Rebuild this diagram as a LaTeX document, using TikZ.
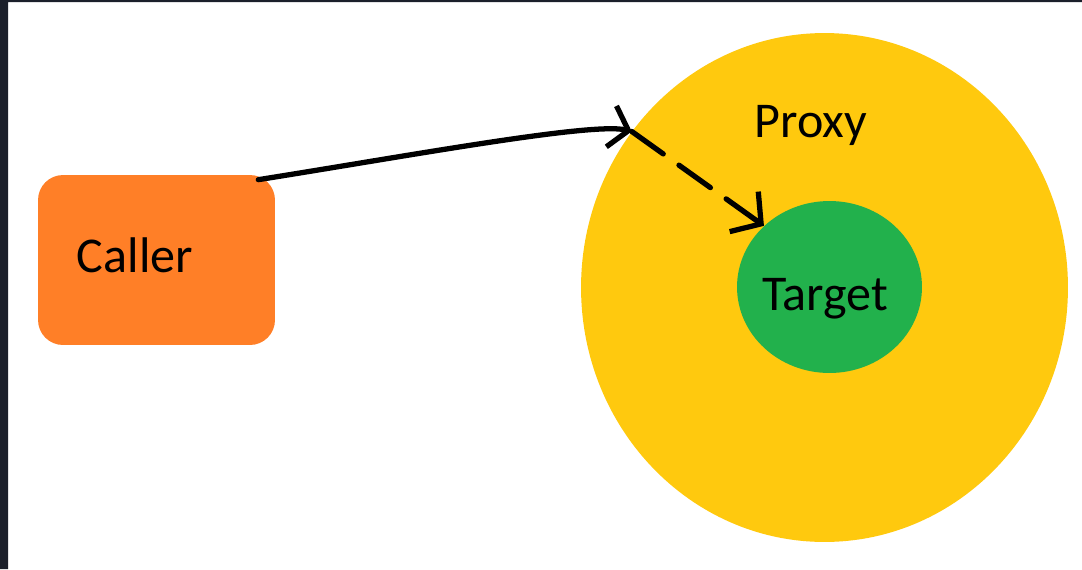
\documentclass[tikz,border=0pt]{standalone}
\usepackage{fontspec}
\setmainfont{Carlito}
\usetikzlibrary{calc,shapes.geometric,arrows.meta}
\definecolor{frame}{HTML}{1B1F2A}
\definecolor{callerorange}{HTML}{FF7F27}
\definecolor{amber}{HTML}{FFC90E}
\definecolor{leaf}{HTML}{22B14C}

\begin{document}
\begin{tikzpicture}[x=0.02cm,y=-0.02cm,
    word/.style={font=\fontsize{28.5}{34}\selectfont,anchor=base,inner sep=0pt},
    blob/.style={ellipse,inner sep=0pt},
    pen/.style={line width=3pt,line cap=round,line join=round}]
  \useasboundingbox (0,0) rectangle (1082,569);
  \fill[white] (0,0) rectangle (1082,569);
  \fill[frame] (0,0) rectangle (8,569) (0,0) rectangle (1082,2);
  % caller box and the two rings
  \node[fill=callerorange,rounded corners=0.5cm,minimum width=4.74cm,minimum height=3.4cm,inner sep=0pt] (caller) at (156.5,260) {};
  \node[blob,fill=amber,minimum width=9.74cm,minimum height=10.18cm] (proxy) at (824.5,287.5) {};
  \node[blob,fill=leaf,minimum width=3.7cm,minimum height=3.44cm] (target) at (829.5,287) {};
  \node[word] (callertxt) at (135,272) {Caller};
  \node[word] (proxytxt) at (811,137) {Proxy};
  \node[word] (targettxt) at (825,310) {Target};
  % call goes through the proxy
  \coordinate (hit) at (proxy.141);
  \draw[pen,-{Straight Barb[length=10pt,width=24pt]}] ($(caller.north east)+(-17,5)$)
    to[out=9,in=166,out distance=3cm,in distance=0.8cm] (hit);
  \draw[pen,dash pattern=on 22pt off 11pt,-{Straight Barb[length=12pt,width=28pt]}] (hit) -- (target.137);
\end{tikzpicture}
\end{document}
